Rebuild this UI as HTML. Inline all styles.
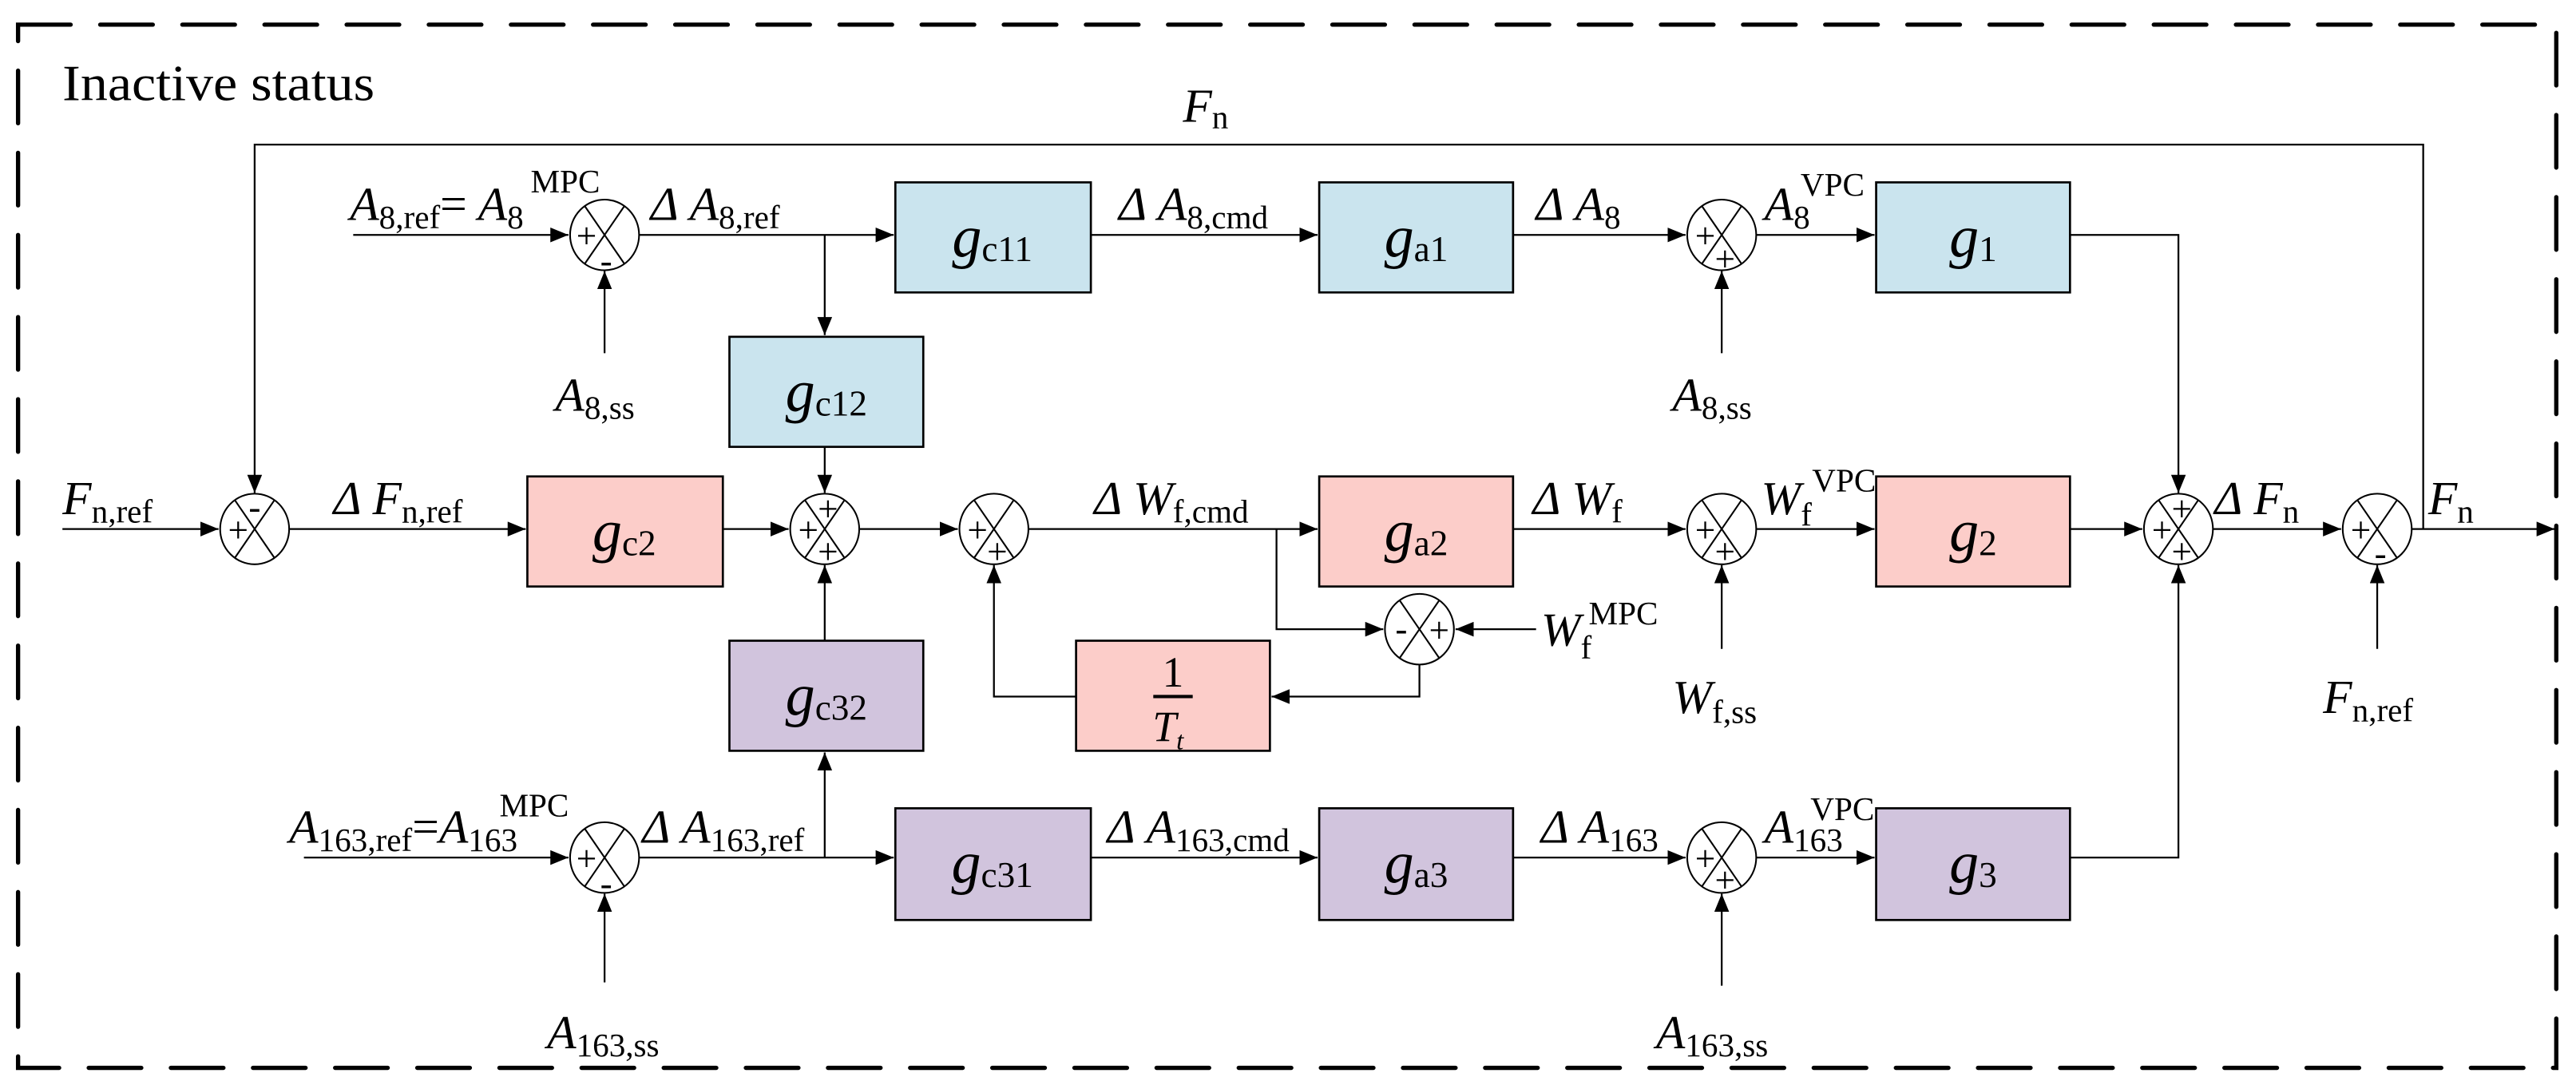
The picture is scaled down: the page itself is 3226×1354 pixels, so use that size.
<!DOCTYPE html>
<html><head><meta charset="utf-8"><style>
html,body{margin:0;padding:0;background:#fff}
svg{display:block}
text,tspan{font-family:"Liberation Serif",serif;fill:#000}
.it{font-style:italic}
.s{font-style:normal;font-size:20px}
</style></head><body>
<svg width="3226" height="1354" viewBox="0 0 1568 658" preserveAspectRatio="none" xmlns="http://www.w3.org/2000/svg">
<defs>
<marker id="a" markerUnits="userSpaceOnUse" markerWidth="11" markerHeight="9" refX="11" refY="4.5" orient="auto"><path d="M0,0 L11,4.5 L0,9 z" fill="#000"/></marker>
</defs>
<rect x="0" y="0" width="1568" height="658" fill="#fff"/>
<rect x="11" y="15" width="1545" height="635" fill="none" stroke="#000" stroke-width="2.6" stroke-dasharray="32 18" stroke-linecap="round"/>
<text x="38" y="61" font-size="31" textLength="190" lengthAdjust="spacingAndGlyphs">Inactive status</text>

<g stroke="#000" stroke-width="1.1" fill="none">
<polyline points="1475,322 1475,88 155,88 155,300" marker-end="url(#a)"/>
<line x1="215" y1="143" x2="346" y2="143" marker-end="url(#a)"/>
<line x1="368" y1="215" x2="368" y2="165" marker-end="url(#a)"/>
<line x1="389" y1="143" x2="544" y2="143" marker-end="url(#a)"/>
<line x1="502" y1="143" x2="502" y2="204" marker-end="url(#a)"/>
<line x1="664" y1="143" x2="802" y2="143" marker-end="url(#a)"/>
<line x1="921" y1="143" x2="1026" y2="143" marker-end="url(#a)"/>
<line x1="1048" y1="215" x2="1048" y2="165" marker-end="url(#a)"/>
<line x1="1069" y1="143" x2="1141" y2="143" marker-end="url(#a)"/>
<polyline points="1260,143 1326,143 1326,300" marker-end="url(#a)"/>
<line x1="38" y1="322" x2="133" y2="322" marker-end="url(#a)"/>
<line x1="176" y1="322" x2="320" y2="322" marker-end="url(#a)"/>
<line x1="440" y1="322" x2="480" y2="322" marker-end="url(#a)"/>
<line x1="502" y1="272" x2="502" y2="300" marker-end="url(#a)"/>
<line x1="502" y1="390" x2="502" y2="344" marker-end="url(#a)"/>
<line x1="523" y1="322" x2="583" y2="322" marker-end="url(#a)"/>
<line x1="626" y1="322" x2="802" y2="322" marker-end="url(#a)"/>
<polyline points="777,322 777,383 842,383" marker-end="url(#a)"/>
<line x1="935" y1="383" x2="886" y2="383" marker-end="url(#a)"/>
<polyline points="864,404 864,424 774,424" marker-end="url(#a)"/>
<polyline points="655,424 605,424 605,344" marker-end="url(#a)"/>
<line x1="921" y1="322" x2="1026" y2="322" marker-end="url(#a)"/>
<line x1="1048" y1="395" x2="1048" y2="344" marker-end="url(#a)"/>
<line x1="1069" y1="322" x2="1141" y2="322" marker-end="url(#a)"/>
<line x1="1260" y1="322" x2="1304" y2="322" marker-end="url(#a)"/>
<line x1="1347" y1="322" x2="1425" y2="322" marker-end="url(#a)"/>
<line x1="1447" y1="395" x2="1447" y2="344" marker-end="url(#a)"/>
<line x1="1468" y1="322" x2="1555" y2="322" marker-end="url(#a)"/>
<line x1="185" y1="522" x2="346" y2="522" marker-end="url(#a)"/>
<line x1="368" y1="598" x2="368" y2="544" marker-end="url(#a)"/>
<line x1="389" y1="522" x2="544" y2="522" marker-end="url(#a)"/>
<line x1="502" y1="522" x2="502" y2="458" marker-end="url(#a)"/>
<line x1="664" y1="522" x2="802" y2="522" marker-end="url(#a)"/>
<line x1="921" y1="522" x2="1026" y2="522" marker-end="url(#a)"/>
<line x1="1048" y1="600" x2="1048" y2="544" marker-end="url(#a)"/>
<line x1="1069" y1="522" x2="1141" y2="522" marker-end="url(#a)"/>
<polyline points="1260,522 1326,522 1326,344" marker-end="url(#a)"/>
</g>

<g stroke="#000" stroke-width="1.3">
<rect x="545" y="111" width="119" height="67" fill="#cae4ee"/>
<rect x="803" y="111" width="118" height="67" fill="#cae4ee"/>
<rect x="1142" y="111" width="118" height="67" fill="#cae4ee"/>
<rect x="444" y="205" width="118" height="67" fill="#cae4ee"/>
<rect x="321" y="290" width="119" height="67" fill="#fccdc9"/>
<rect x="803" y="290" width="118" height="67" fill="#fccdc9"/>
<rect x="1142" y="290" width="118" height="67" fill="#fccdc9"/>
<rect x="655" y="390" width="118" height="67" fill="#fccdc9"/>
<rect x="444" y="390" width="118" height="67" fill="#d1c4dd"/>
<rect x="545" y="492" width="119" height="68" fill="#d1c4dd"/>
<rect x="803" y="492" width="118" height="68" fill="#d1c4dd"/>
<rect x="1142" y="492" width="118" height="68" fill="#d1c4dd"/>
</g>

<g stroke="#000" stroke-width="1" fill="#fff">
<g transform="translate(368,143)"><ellipse rx="21" ry="21.5"/><line x1="-12" y1="-17.5" x2="12" y2="17.5"/><line x1="12" y1="-17.5" x2="-12" y2="17.5"/></g>
<g transform="translate(1048,143)"><ellipse rx="21" ry="21.5"/><line x1="-12" y1="-17.5" x2="12" y2="17.5"/><line x1="12" y1="-17.5" x2="-12" y2="17.5"/></g>
<g transform="translate(155,322)"><ellipse rx="21" ry="21.5"/><line x1="-12" y1="-17.5" x2="12" y2="17.5"/><line x1="12" y1="-17.5" x2="-12" y2="17.5"/></g>
<g transform="translate(502,322)"><ellipse rx="21" ry="21.5"/><line x1="-12" y1="-17.5" x2="12" y2="17.5"/><line x1="12" y1="-17.5" x2="-12" y2="17.5"/></g>
<g transform="translate(605,322)"><ellipse rx="21" ry="21.5"/><line x1="-12" y1="-17.5" x2="12" y2="17.5"/><line x1="12" y1="-17.5" x2="-12" y2="17.5"/></g>
<g transform="translate(864,383)"><ellipse rx="21" ry="21.5"/><line x1="-12" y1="-17.5" x2="12" y2="17.5"/><line x1="12" y1="-17.5" x2="-12" y2="17.5"/></g>
<g transform="translate(1048,322)"><ellipse rx="21" ry="21.5"/><line x1="-12" y1="-17.5" x2="12" y2="17.5"/><line x1="12" y1="-17.5" x2="-12" y2="17.5"/></g>
<g transform="translate(1326,322)"><ellipse rx="21" ry="21.5"/><line x1="-12" y1="-17.5" x2="12" y2="17.5"/><line x1="12" y1="-17.5" x2="-12" y2="17.5"/></g>
<g transform="translate(1447,322)"><ellipse rx="21" ry="21.5"/><line x1="-12" y1="-17.5" x2="12" y2="17.5"/><line x1="12" y1="-17.5" x2="-12" y2="17.5"/></g>
<g transform="translate(368,522)"><ellipse rx="21" ry="21.5"/><line x1="-12" y1="-17.5" x2="12" y2="17.5"/><line x1="12" y1="-17.5" x2="-12" y2="17.5"/></g>
<g transform="translate(1048,522)"><ellipse rx="21" ry="21.5"/><line x1="-12" y1="-17.5" x2="12" y2="17.5"/><line x1="12" y1="-17.5" x2="-12" y2="17.5"/></g>
</g>

<g font-size="22" text-anchor="middle">
<text x="357" y="151">+</text><text x="369" y="166">-</text>
<text x="1038" y="151">+</text><text x="1050" y="165">+</text>
<text x="145" y="330">+</text><text x="155" y="316">-</text>
<text x="492" y="330">+</text><text x="504" y="317">+</text><text x="504" y="343">+</text>
<text x="595" y="330">+</text><text x="607" y="343">+</text>
<text x="853" y="390">-</text><text x="876" y="391">+</text>
<text x="1038" y="330">+</text><text x="1050" y="343">+</text>
<text x="1316" y="330">+</text><text x="1328" y="317">+</text><text x="1328" y="343">+</text>
<text x="1437" y="330">+</text><text x="1449" y="344">-</text>
<text x="357" y="530">+</text><text x="369" y="545">-</text>
<text x="1038" y="530">+</text><text x="1050" y="543">+</text>
</g>

<g font-size="36" text-anchor="middle">
<text x="604" y="156"><tspan class="it">g</tspan><tspan font-size="22" dy="3">c11</tspan></text>
<text x="862" y="156"><tspan class="it">g</tspan><tspan font-size="22" dy="3">a1</tspan></text>
<text x="1201" y="156"><tspan class="it">g</tspan><tspan font-size="22" dy="3">1</tspan></text>
<text x="503" y="250"><tspan class="it">g</tspan><tspan font-size="22" dy="3">c12</tspan></text>
<text x="380" y="335"><tspan class="it">g</tspan><tspan font-size="22" dy="3">c2</tspan></text>
<text x="862" y="335"><tspan class="it">g</tspan><tspan font-size="22" dy="3">a2</tspan></text>
<text x="1201" y="335"><tspan class="it">g</tspan><tspan font-size="22" dy="3">2</tspan></text>
<text x="503" y="435"><tspan class="it">g</tspan><tspan font-size="22" dy="3">c32</tspan></text>
<text x="604" y="537"><tspan class="it">g</tspan><tspan font-size="22" dy="3">c31</tspan></text>
<text x="862" y="537"><tspan class="it">g</tspan><tspan font-size="22" dy="3">a3</tspan></text>
<text x="1201" y="537"><tspan class="it">g</tspan><tspan font-size="22" dy="3">3</tspan></text>
</g>
<text x="714" y="418" font-size="26" text-anchor="middle">1</text>
<line x1="702" y1="424" x2="726" y2="424" stroke="#000" stroke-width="2"/>
<text x="711" y="451" font-size="26" text-anchor="middle" class="it">T<tspan font-size="16" dy="5">t</tspan></text>

<g font-size="29">
<text x="720" y="74" class="it">F<tspan class="s" dy="4">n</tspan></text>
<text x="213" y="134" class="it">A<tspan class="s" dy="5">8,ref</tspan><tspan style="font-style:normal" dy="-5">=</tspan> A<tspan class="s" dy="5">8</tspan></text>
<text x="323" y="117" class="s">MPC</text>
<text x="396" y="134" class="it">Δ A<tspan class="s" dy="5">8,ref</tspan></text>
<text x="681" y="134" class="it">Δ A<tspan class="s" dy="5">8,cmd</tspan></text>
<text x="935" y="134" class="it">Δ A<tspan class="s" dy="5">8</tspan></text>
<text x="1074" y="134" class="it">A<tspan class="s" dy="5">8</tspan></text>
<text x="1096" y="119" class="s">VPC</text>
<text x="338" y="250" class="it">A<tspan class="s" dy="5">8,ss</tspan></text>
<text x="1018" y="250" class="it">A<tspan class="s" dy="5">8,ss</tspan></text>
<text x="38" y="313" class="it">F<tspan class="s" dy="5">n,ref</tspan></text>
<text x="203" y="313" class="it">Δ F<tspan class="s" dy="5">n,ref</tspan></text>
<text x="666" y="313" class="it">Δ W<tspan class="s" dy="5">f,cmd</tspan></text>
<text x="933" y="313" class="it">Δ W<tspan class="s" dy="5">f</tspan></text>
<text x="1072" y="313" class="it">W<tspan class="s" dy="7">f</tspan></text>
<text x="1103" y="299" class="s">VPC</text>
<text x="1348" y="313" class="it">Δ F<tspan class="s" dy="5">n</tspan></text>
<text x="1478" y="313" class="it">F<tspan class="s" dy="5">n</tspan></text>
<text x="938" y="393" class="it">W<tspan class="s" dy="8">f</tspan></text>
<text x="967" y="380" class="s">MPC</text>
<text x="1018" y="434" class="it">W<tspan class="s" dy="6">f,ss</tspan></text>
<text x="1414" y="434" class="it">F<tspan class="s" dy="5">n,ref</tspan></text>
<text x="176" y="513" class="it">A<tspan class="s" dy="5">163,ref</tspan><tspan style="font-style:normal" dy="-5">=</tspan>A<tspan class="s" dy="5">163</tspan></text>
<text x="304" y="497" class="s">MPC</text>
<text x="391" y="513" class="it">Δ A<tspan class="s" dy="5">163,ref</tspan></text>
<text x="674" y="513" class="it">Δ A<tspan class="s" dy="5">163,cmd</tspan></text>
<text x="938" y="513" class="it">Δ A<tspan class="s" dy="5">163</tspan></text>
<text x="1074" y="513" class="it">A<tspan class="s" dy="5">163</tspan></text>
<text x="1102" y="499" class="s">VPC</text>
<text x="333" y="638" class="it">A<tspan class="s" dy="5">163,ss</tspan></text>
<text x="1008" y="638" class="it">A<tspan class="s" dy="5">163,ss</tspan></text>
</g>
</svg>
</body></html>
